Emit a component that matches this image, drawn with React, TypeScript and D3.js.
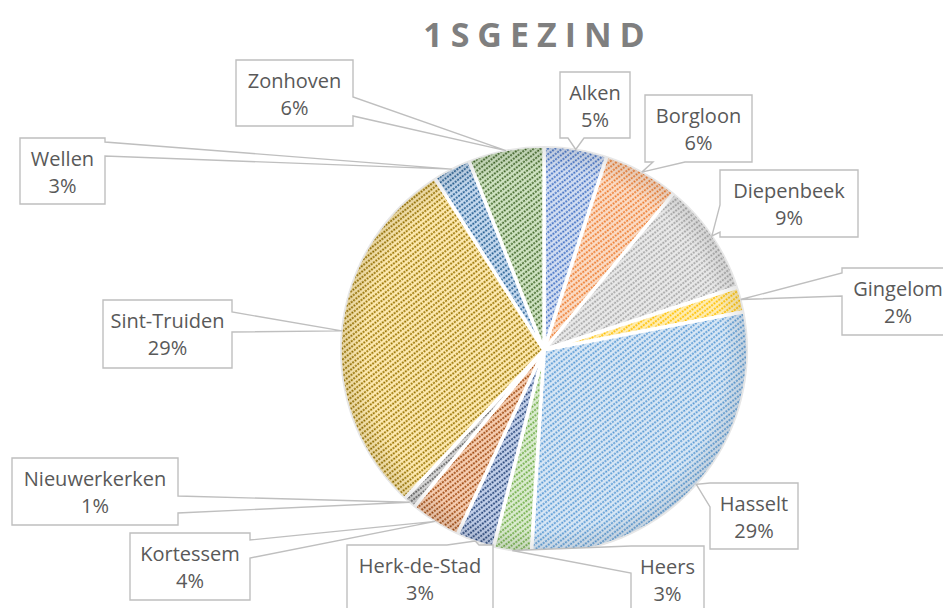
import React from 'react';
import * as d3 from 'd3';

const width = 943;
const height = 608;

// data
const towns = [
  'Alken', 'Borgloon', 'Diepenbeek', 'Gingelom', 'Hasselt', 'Heers',
  'Herk-de-Stad', 'Kortessem', 'Nieuwerkerken', 'Sint-Truiden', 'Wellen', 'Zonhoven',
];
const shares = [5, 6, 9, 2, 29, 3, 3, 4, 1, 29, 3, 6];

// pattern colours (stripe / background)
const stripeColors = [
  '#4472C4', '#ED7D31', '#A5A5A5', '#FFC000', '#5B9BD5', '#70AD47',
  '#264478', '#9E480E', '#636363', '#997300', '#255E91', '#43682B',
];
const backColors = [
  '#d3def2', '#fbdcc6', '#e9e9e9', '#ffedb3', '#d8e7f5', '#dbecd0',
  '#c3d0ea', '#f7ceb2', '#d6d6d6', '#feeab0', '#c6daef', '#d0e4c3',
];

// label boxes: x, y, w, h, side the pointer leaves from, and two base offsets on that side
const labelBoxes = [
  { x: 560, y: 72, w: 70, h: 66, side: 'bottom', a: 8, b: 24 },
  { x: 645, y: 95, w: 107, h: 67, side: 'bottom', a: 8, b: 40 },
  { x: 720, y: 170, w: 138, h: 67, side: 'left', a: 35, b: 62 },
  { x: 842, y: 268, w: 112, h: 67, side: 'left', a: 5, b: 28 },
  { x: 710, y: 483, w: 88, h: 66, side: 'left', a: 0, b: 24 },
  { x: 631, y: 546, w: 73, h: 72, side: 'left', a: 0, b: 27 },
  { x: 347, y: 545, w: 146, h: 72, side: 'top', a: 100, b: 132 },
  { x: 130, y: 533, w: 120, h: 67, side: 'right', a: 7, b: 25 },
  { x: 12, y: 458, w: 166, h: 67, side: 'right', a: 38, b: 55 },
  { x: 103, y: 300, w: 129, h: 68, side: 'right', a: 12, b: 32 },
  { x: 20, y: 138, w: 85, h: 66, side: 'right', a: 4, b: 18 },
  { x: 236, y: 60, w: 117, h: 66, side: 'right', a: 37, b: 56 },
];

const cx = 544;
const cy = 350;
const radius = 204;

function calloutPath(bx, tip) {
  const { x, y, w, h, side, a, b } = bx;
  const [tx, ty] = tip;
  const p = d3.path();
  p.moveTo(x, y);
  if (side === 'top') {
    p.lineTo(x + a, y);
    p.lineTo(tx, ty);
    p.lineTo(x + b, y);
  }
  p.lineTo(x + w, y);
  if (side === 'right') {
    p.lineTo(x + w, y + a);
    p.lineTo(tx, ty);
    p.lineTo(x + w, y + b);
  }
  p.lineTo(x + w, y + h);
  if (side === 'bottom') {
    p.lineTo(x + b, y + h);
    p.lineTo(tx, ty);
    p.lineTo(x + a, y + h);
  }
  p.lineTo(x, y + h);
  if (side === 'left') {
    p.lineTo(x, y + b);
    p.lineTo(tx, ty);
    p.lineTo(x, y + a);
  }
  p.closePath();
  return p.toString();
}

export default function App() {
  const data = towns.map((t, i) => ({ town: t, value: shares[i], i }));
  const pie = d3.pie<any>().sort(null).value((d) => d.value);
  const arcs = pie(data);
  const arc = d3.arc<any>().innerRadius(0).outerRadius(radius);
  const total = d3.sum(shares);
  const fmt = d3.format('.0%');

  // pointer tip sits on the slice edge at its middle angle
  const tipOf = (d) => {
    const m = (d.startAngle + d.endAngle) / 2;
    const r = radius - 1;
    return [cx + r * Math.sin(m), cy - r * Math.cos(m)];
  };

  return (
    <svg
      width={width}
      height={height}
      style={{ position: 'absolute', left: 0, top: 0, background: '#fff' }}
      fontFamily="'Open Sans', sans-serif"
    >
      <defs>
        {stripeColors.map((c, i) => (
          <pattern
            key={i}
            id={'pat' + i}
            width={6}
            height={4.4}
            patternUnits="userSpaceOnUse"
            patternTransform="rotate(-38)"
          >
            <rect width={6} height={4.4} fill={backColors[i]} />
            <line x1={0} y1={2.2} x2={6} y2={2.2} stroke={c} strokeWidth={1.7} strokeDasharray="2 1" />
          </pattern>
        ))}
        <radialGradient id="edge" cx="0.5" cy="0.5" r="0.5">
          <stop offset="0.88" stopColor="#000" stopOpacity={0} />
          <stop offset="1" stopColor="#000" stopOpacity={0.1} />
        </radialGradient>
      </defs>

      <text
        x={534 + 4}
        y={47}
        textAnchor="middle"
        fontSize={34}
        fontWeight="bold"
        letterSpacing={8}
        fill="#7f7f7f"
      >
        1SGEZIND
      </text>

      <g transform={`translate(${cx},${cy})`}>
        {arcs.map((d) => (
          <path
            key={d.data.town}
            d={arc(d)}
            fill={`url(#pat${d.data.i})`}
            stroke="#fff"
            strokeWidth={3.5}
            strokeLinejoin="round"
          />
        ))}
        <circle r={radius} fill="url(#edge)" pointerEvents="none" />
      </g>

      {arcs.map((d) => {
        const bx = labelBoxes[d.data.i];
        return (
          <g key={'lab' + d.data.town}>
            <path d={calloutPath(bx, tipOf(d))} fill="#fff" stroke="#bfbfbf" strokeWidth={1.4} />
            <text x={bx.x + bx.w / 2} y={bx.y + 28} textAnchor="middle" fontSize={20} fill="#595959">
              {d.data.town}
            </text>
            <text x={bx.x + bx.w / 2} y={bx.y + 55} textAnchor="middle" fontSize={20} fill="#595959">
              {fmt(d.data.value / total)}
            </text>
          </g>
        );
      })}
    </svg>
  );
}
